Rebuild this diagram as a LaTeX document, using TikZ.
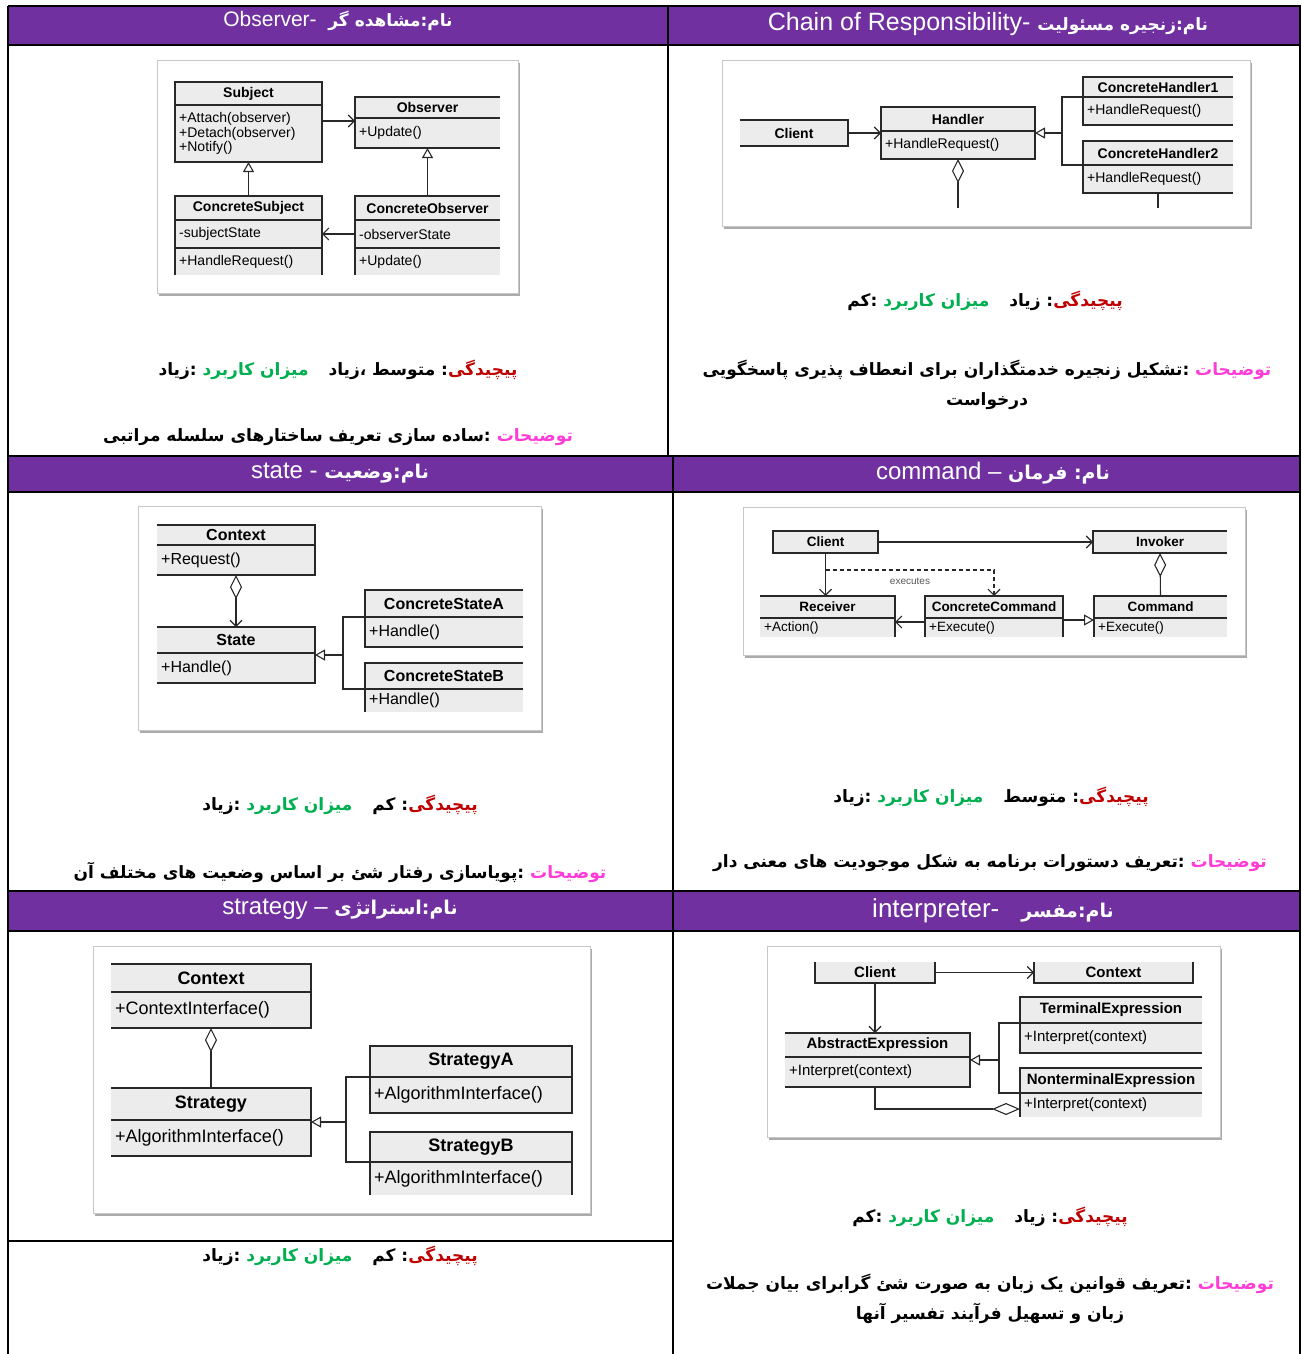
\documentclass[tikz,border=0pt]{standalone}
\usepackage{fontspec}
\setmainfont{Liberation Sans}
\newfontfamily\farsi[Script=Arabic]{DejaVu Sans}
\usetikzlibrary{arrows.meta,shadows}
\TeXXeTstate=1
\definecolor{hdpurple}{RGB}{112,48,160}
\definecolor{umlgray}{RGB}{236,236,236}
\definecolor{umlline}{RGB}{40,40,40}
\definecolor{cxred}{RGB}{192,0,0}
\definecolor{usegreen}{RGB}{0,176,80}
\definecolor{descpink}{RGB}{255,60,215}
\newcommand\RR[1]{\beginR#1\endR}
\newcommand\cxline[2]{\RR{#2}:\ {\color{usegreen}\RR{میزان کاربرد}}\hspace{20pt}\RR{#1}\ :{\color{cxred}\RR{پیچیدگی}}}
\newcommand\descline[1]{\RR{#1}:\ {\color{descpink}\RR{توضیحات}}}
\newcommand\ctl[6]{\node[comp,cttl,minimum width={#4pt-#2pt},minimum height={#5pt-#3pt}] (#1) at (#2,#3) {#6};}
\newcommand\cmt[6]{\node[comp,minimum width={#4pt-#2pt},minimum height={#5pt-#3pt}] (#1) at (#2,#3) {};\node[cmth,anchor=west,xshift=4pt,inner sep=0pt,align=left] (#1x) at (#1.west) {#6};}
\begin{document}
\begin{tikzpicture}[x=1pt,y=-1pt,
  cls/.style={draw=umlline,line width=1.1pt},
  assoc/.style={cls,-{Straight Barb[length=6pt,width=12pt]}},
  gen/.style={cls,-{Triangle[open,length=10pt,width=11pt]}},
  aggr/.style={cls,{Diamond[open,length=24pt,width=12pt]}-},
  aggrnav/.style={cls,{Diamond[open,length=24pt,width=12pt]}-{Straight Barb[length=6pt,width=12pt]}},
  comp/.style={fill=umlgray,inner sep=0pt,outer sep=0pt,anchor=north west},
  gridline/.style={line width=1.6pt,black},
  hdtext/.style={text=white,inner sep=0pt},
  fatext/.style={font=\farsi\bfseries\fontsize{17}{30}\selectfont,align=center,inner sep=0pt},
  uframe/.style={fill=white,draw=black!22,line width=0.8pt,anchor=north west,inner sep=0pt,
     drop shadow={shadow xshift=2pt,shadow yshift=-3pt,fill=black!55,opacity=0.6}},
]
\useasboundingbox (0,0) rectangle (1301,1354);
\fill[white] (0,0) rectangle (1301,1354);
% header bars
\fill[hdpurple] (8,6) rectangle (1301,45);
\fill[hdpurple] (8,456) rectangle (1301,492);
\fill[hdpurple] (8,891) rectangle (1301,931);

% header texts
\node[hdtext] (h1) at (338,21) {\fontsize{21}{21}\selectfont Observer-\ \ {\farsi\bfseries\fontsize{17}{17}\selectfont\RR{مشاهده گر}:\RR{نام}}};
\node[hdtext] (h2) at (988,24) {\fontsize{25}{25}\selectfont Chain of Responsibility-\ {\farsi\bfseries\fontsize{17}{17}\selectfont\RR{زنجیره مسئولیت}:\RR{نام}}};
\node[hdtext] (h3) at (340,473) {\fontsize{24}{24}\selectfont state - {\farsi\bfseries\fontsize{19}{19}\selectfont\RR{وضعیت}:\RR{نام}}};
\node[hdtext] (h4) at (993,473) {\fontsize{24}{24}\selectfont command – {\farsi\bfseries\fontsize{19}{19}\selectfont\RR{فرمان}\ :\RR{نام}}};
\node[hdtext] (h5) at (340,909) {\fontsize{24}{24}\selectfont strategy – {\farsi\bfseries\fontsize{19}{19}\selectfont\RR{استراتژی}:\RR{نام}}};
\node[hdtext] (h6) at (993,911) {\fontsize{26}{26}\selectfont interpreter-\hspace{22pt}{\farsi\bfseries\fontsize{19}{19}\selectfont\RR{مفسر}:\RR{نام}}};

% ================= Observer =================
\node[uframe,minimum width=361pt,minimum height=233pt] (oFr) at (157,60) {};
\begin{scope}[cttl/.style={font=\bfseries\fontsize{14}{14}\selectfont},cmth/.style={font=\fontsize{14}{14.5}\selectfont}]
\ctl{oST}{175}{82}{322}{105}{Subject}
\cmt{oSM}{175}{105}{322}{162}{+Attach(observer)\\+Detach(observer)\\+Notify()}
\ctl{oOT}{355}{97}{500}{118}{Observer}
\cmt{oOM}{355}{118}{500}{148}{+Update()}
\ctl{oCST}{175}{196}{322}{220}{ConcreteSubject}
\cmt{oCSA}{175}{220}{322}{248}{-subjectState}
\cmt{oCSM}{175}{248}{322}{275}{+HandleRequest()}
\ctl{oCOT}{355}{196}{500}{220}{ConcreteObserver}
\cmt{oCOA}{355}{220}{500}{248}{-observerState}
\cmt{oCOM}{355}{248}{500}{275}{+Update()}
\end{scope}
\draw[cls] (oST.north west) rectangle (oSM.south east);
\draw[cls] (oST.south west) -- (oST.south east);
\draw[cls] (oOT.north east) -- (oOT.north west) -- (oOM.south west) -- (oOM.south east);
\draw[cls] (oOT.south west) -- (oOT.south east);
\draw[cls] (oCSM.south west) -- (oCST.north west) -- (oCST.north east) -- (oCSM.south east);
\draw[cls] (oCST.south west) -- (oCST.south east) (oCSA.south west) -- (oCSA.south east);
\draw[cls] (oCOT.north east) -- (oCOT.north west) -- (oCOM.south west);
\draw[cls] (oCOT.south west) -- (oCOT.south east) (oCOA.south west) -- (oCOA.south east);
\draw[assoc] (oSM.east |- 0,121) -- (oOM.west |- 0,121);
\draw[gen] (oCST.north) -- (oSM.south);
\draw[gen] (oCOT.north) -- (oOM.south);
\draw[assoc] (oCOA.west) -- (oCSA.east);

% ================= Chain of Responsibility =================
\node[uframe,minimum width=528pt,minimum height=166pt] (cFr) at (722,60) {};
\begin{scope}[cttl/.style={font=\bfseries\fontsize{14}{14}\selectfont},cmth/.style={font=\fontsize{14}{14}\selectfont}]
\ctl{cCl}{740}{120}{848}{146}{Client}
\ctl{cHT}{881}{107}{1035}{131}{Handler}
\cmt{cHM}{881}{131}{1035}{159}{+HandleRequest()}
\ctl{cAT}{1083}{77}{1233}{97}{ConcreteHandler1}
\cmt{cAM}{1083}{97}{1233}{125}{+HandleRequest()}
\ctl{cBT}{1083}{141}{1233}{165}{ConcreteHandler2}
\cmt{cBM}{1083}{165}{1233}{193}{+HandleRequest()}
\end{scope}
\draw[cls] (cCl.north west) -- (cCl.north east) -- (cCl.south east) -- (cCl.south west);
\draw[cls] (cHT.north west) rectangle (cHM.south east);
\draw[cls] (cHT.south west) -- (cHT.south east);
\draw[cls] (cAT.north east) -- (cAT.north west) -- (cAM.south west) -- (cAM.south east);
\draw[cls] (cAT.south west) -- (cAT.south east);
\draw[cls] (cBT.north east) -- (cBT.north west) -- (cBM.south west) -- (cBM.south east);
\draw[cls] (cBT.south west) -- (cBT.south east);
\draw[assoc] (cCl.east) -- (cHT.west |- cCl.east);
\coordinate (cj) at (1062,133);
\draw[cls] (cAT.south west) -- (cAT.south west -| cj) -- (cBT.south west -| cj) -- (cBT.south west);
\draw[gen] (cj) -- (cHM.north east |- cj);
\draw[cls] (cBM.south) -- ++(0,15);
\draw[aggr] (cHM.south) -- ++(0,49);

% ================= State =================
\node[uframe,minimum width=403pt,minimum height=224pt] (sFr) at (138,506) {};
\begin{scope}[cttl/.style={font=\bfseries\fontsize{16}{16}\selectfont},cmth/.style={font=\fontsize{16}{16}\selectfont}]
\ctl{sCT}{157}{525}{315}{545}{Context}
\cmt{sCM}{157}{545}{315}{575}{+Request()}
\ctl{sST}{157}{627}{315}{653}{State}
\cmt{sSM}{157}{653}{315}{683}{+Handle()}
\ctl{sAT}{365}{590}{523}{617}{ConcreteStateA}
\cmt{sAM}{365}{617}{523}{647}{+Handle()}
\ctl{sBT}{365}{663}{523}{689}{ConcreteStateB}
\cmt{sBM}{365}{689}{523}{712}{+Handle()}
\end{scope}
\draw[cls] (sCT.north west) -- (sCT.north east) -- (sCM.south east) -- (sCM.south west);
\draw[cls] (sCT.south west) -- (sCT.south east);
\draw[cls] (sST.north west) -- (sST.north east) -- (sSM.south east) -- (sSM.south west);
\draw[cls] (sST.south west) -- (sST.south east);
\draw[cls] (sAT.north east) -- (sAT.north west) -- (sAM.south west) -- (sAM.south east);
\draw[cls] (sAT.south west) -- (sAT.south east);
\draw[cls] (sBT.north east) -- (sBT.north west) -- (sBM.south west);
\draw[cls] (sBT.south west) -- (sBT.south east);
\draw[aggrnav] (sCM.south) -- (sST.north);
\coordinate (sj) at (343,655);
\draw[cls] (sAT.south west) -- (sAT.south west -| sj) -- (sBT.south west -| sj) -- (sBT.south west);
\draw[gen] (sj) -- (sSM.north east |- sj);

% ================= Command =================
\node[uframe,minimum width=502pt,minimum height=148pt] (kFr) at (743,507) {};
\begin{scope}[cttl/.style={font=\bfseries\fontsize{13.5}{13.5}\selectfont},cmth/.style={font=\fontsize{13.5}{13.5}\selectfont}]
\ctl{kCl}{773}{531}{878}{553}{Client}
\ctl{kIn}{1093}{531}{1227}{553}{Invoker}
\ctl{kRT}{760}{596}{895}{618}{Receiver}
\cmt{kRM}{760}{618}{895}{637}{+Action()}
\ctl{kCT}{925}{596}{1063}{618}{ConcreteCommand}
\cmt{kCM}{925}{618}{1063}{637}{+Execute()}
\ctl{kMT}{1094}{596}{1227}{618}{Command}
\cmt{kMM}{1094}{618}{1227}{637}{+Execute()}
\end{scope}
\draw[cls] (kCl.north west) rectangle (kCl.south east);
\draw[cls] (kIn.north east) -- (kIn.north west) -- (kIn.south west) -- (kIn.south east);
\draw[cls] (kRT.north west) -- (kRT.north east) -- (kRM.south east);
\draw[cls] (kRT.south west) -- (kRT.south east);
\draw[cls] (kCM.south west) -- (kCT.north west) -- (kCT.north east) -- (kCM.south east);
\draw[cls] (kCT.south west) -- (kCT.south east);
\draw[cls] (kMT.north east) -- (kMT.north west) -- (kMM.south west);
\draw[cls] (kMT.south west) -- (kMT.south east);
\draw[assoc] (kCl.east) -- (kIn.west);
\draw[assoc] (kCl.south) -- (kCl.south |- kRT.north);
\draw[cls,dashed,dash pattern=on 4pt off 3pt,-{Straight Barb[length=6pt,width=12pt]}] (kCl.south |- 0,570) -| (kCT.north);
\node[font=\fontsize{10}{10}\selectfont,text=black!65,inner sep=0pt] (kEx) at (910,581) {executes};
\draw[aggr] (kIn.south) -- (kMT.north);
\draw[assoc] ([yshift=-4pt]kCT.south west) -- ([yshift=-4pt]kRT.south east);
\draw[gen] ([yshift=-2pt]kCT.south east) -- ([yshift=-2pt]kMT.south west);

% ================= Strategy =================
\node[uframe,minimum width=497pt,minimum height=267pt] (gFr) at (93,946) {};
\begin{scope}[cttl/.style={font=\bfseries\fontsize{18}{18}\selectfont},cmth/.style={font=\fontsize{18}{18}\selectfont}]
\ctl{gCT}{111}{964}{311}{992}{Context}
\cmt{gCM}{111}{992}{311}{1028}{+ContextInterface()}
\ctl{gST}{111}{1088}{311}{1120}{Strategy}
\cmt{gSM}{111}{1120}{311}{1156}{+AlgorithmInterface()}
\ctl{gAT}{370}{1046}{572}{1077}{StrategyA}
\cmt{gAM}{370}{1077}{572}{1113}{+AlgorithmInterface()}
\ctl{gBT}{370}{1132}{572}{1162}{StrategyB}
\cmt{gBM}{370}{1162}{572}{1195}{+AlgorithmInterface()}
\end{scope}
\draw[cls] (gCT.north west) -- (gCT.north east) -- (gCM.south east) -- (gCM.south west);
\draw[cls] (gCT.south west) -- (gCT.south east);
\draw[cls] (gST.north west) -- (gST.north east) -- (gSM.south east) -- (gSM.south west);
\draw[cls] (gST.south west) -- (gST.south east);
\draw[cls] (gAT.north west) rectangle (gAM.south east);
\draw[cls] (gAT.south west) -- (gAT.south east);
\draw[cls] (gBM.south west) -- (gBT.north west) -- (gBT.north east) -- (gBM.south east);
\draw[cls] (gBT.south west) -- (gBT.south east);
\draw[aggr] (gCM.south) -- (gST.north);
\coordinate (gj) at (346,1122);
\draw[cls] (gAT.south west) -- (gAT.south west -| gj) -- (gBT.south west -| gj) -- (gBT.south west);
\draw[gen] (gj) -- (gSM.north east |- gj);

% ================= Interpreter =================
\node[uframe,minimum width=453pt,minimum height=191pt] (iFr) at (767,946) {};
\begin{scope}[cttl/.style={font=\bfseries\fontsize{15}{15}\selectfont},cmth/.style={font=\fontsize{15}{15}\selectfont}]
\ctl{iCl}{815}{962}{935}{983}{Client}
\ctl{iCx}{1034}{962}{1193}{983}{Context}
\ctl{iTT}{1020}{997}{1202}{1023}{TerminalExpression}
\cmt{iTM}{1020}{1023}{1202}{1053}{+Interpret(context)}
\ctl{iNT}{1020}{1068}{1202}{1093}{NonterminalExpression}
\cmt{iNM}{1020}{1093}{1202}{1117}{+Interpret(context)}
\ctl{iAT}{785}{1033}{970}{1057}{AbstractExpression}
\cmt{iAM}{785}{1057}{970}{1087}{+Interpret(context)}
\end{scope}
\draw[cls] (iCl.north west) -- (iCl.south west) -- (iCl.south east) -- (iCl.north east);
\draw[cls] (iCx.north west) -- (iCx.south west) -- (iCx.south east) -- (iCx.north east);
\draw[cls] (iTT.north east) -- (iTT.north west) -- (iTM.south west) -- (iTM.south east);
\draw[cls] (iTT.south west) -- (iTT.south east);
\draw[cls] (iNT.north east) -- (iNT.north west) -- (iNM.south west);
\draw[cls] (iNT.south west) -- (iNT.south east);
\draw[cls] (iAT.north west) -- (iAT.north east) -- (iAM.south east) -- (iAM.south west);
\draw[cls] (iAT.south west) -- (iAT.south east);
\draw[assoc] (iCl.east) -- (iCx.west);
\draw[assoc] (iCl.south) -- (iCl.south |- iAT.north);
\coordinate (ij) at (999,1060);
\draw[cls] (iTT.south west) -- (iTT.south west -| ij) -- (iNT.south west -| ij) -- (iNT.south west);
\draw[gen] (ij) -- (iAM.north east |- ij);
\draw[cls,-{Diamond[open,length=28pt,width=12pt]}] (iAM.south -| iCl.south) |- ([yshift=-4pt]iNM.west);

% ================= Persian texts =================
\node[fatext] (t1) at (985,301) {\cxline{زیاد}{کم}};
\node[fatext] (t2) at (987,385) {\descline{تشکیل زنجیره خدمتگذاران برای انعطاف پذیری پاسخگویی}\\\RR{درخواست}};
\node[fatext] (t3) at (338,370) {\cxline{متوسط ،زیاد}{زیاد}};
\node[fatext] (t4) at (338,437) {\descline{ساده سازی تعریف ساختارهای سلسله مراتبی}};
\node[fatext] (t5) at (340,805) {\cxline{کم}{زیاد}};
\node[fatext] (t6) at (340,872) {\descline{پویاسازی رفتار شئ بر اساس وضعیت های مختلف آن}};
\node[fatext] (t7) at (991,797) {\cxline{متوسط}{زیاد}};
\node[fatext] (t8) at (990,863) {\descline{تعریف دستورات برنامه به شکل موجودیت های معنی دار}};
\node[fatext] (t9) at (340,1256) {\cxline{کم}{زیاد}};
\node[fatext] (t10) at (990,1217) {\cxline{زیاد}{کم}};
\node[fatext] (t11) at (990,1299) {\descline{تعریف قوانین یک زبان به صورت شئ گرابرای بیان جملات}\\\RR{زبان و تسهیل فرآیند تفسیر آنها}};

% ================= table grid =================
\draw[gridline] (8,6) -- (1301,6);
\draw[gridline] (8,45) -- (1301,45);
\draw[gridline] (8,456) -- (1301,456);
\draw[gridline] (8,492) -- (1301,492);
\draw[gridline] (8,891) -- (1301,891);
\draw[gridline] (8,931) -- (1301,931);
\draw[gridline] (8,1241) -- (673,1241);
\draw[gridline] (8,6) -- (8,1354);
\draw[gridline] (1300,6) -- (1300,1354);
\draw[gridline] (668,6) -- (668,456);
\draw[gridline] (673,456) -- (673,1354);
\end{tikzpicture}
\end{document}
